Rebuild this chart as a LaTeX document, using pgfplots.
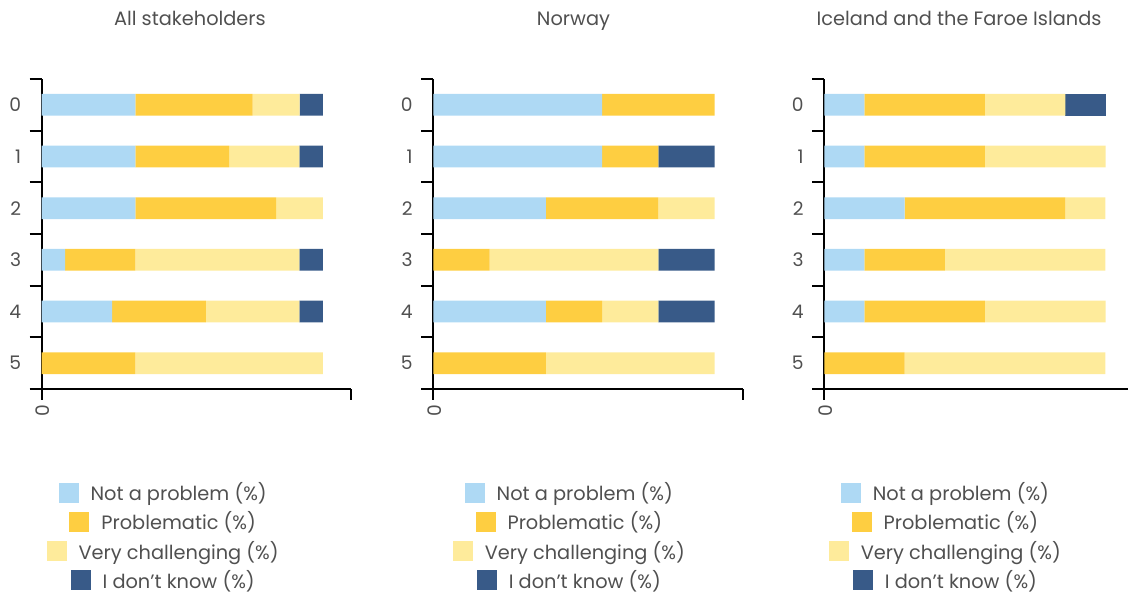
\documentclass[border=0pt]{standalone}
\usepackage{pgfplots}
\pgfplotsset{compat=1.18}
\usepackage{pgfplotstable}
\usepackage{fontspec}
\setmainfont{Poppins}
\definecolor{cnp}{HTML}{AED9F4}
\definecolor{cpr}{HTML}{FECE41}
\definecolor{cvc}{HTML}{FEEB9B}
\definecolor{cdk}{HTML}{385A88}
\definecolor{txt}{HTML}{505050}

% pos: 5 = category "0" (top) ... 0 = category "5" (bottom)
\pgfplotstableread{
pos np    pr    vc    dk
5   33.33 41.67 16.67 8.33
4   33.33 33.33 25.00 8.33
3   33.33 50.00 16.67 0
2   8.33  25.00 58.33 8.33
1   25.00 33.33 33.33 8.33
0   0     33.33 66.67 0
}\tall
\pgfplotstableread{
pos np pr vc dk
5   60 40 0  0
4   60 20 0  20
3   40 40 20 0
2   0  20 60 20
1   40 20 20 20
0   0  40 60 0
}\tnor
\pgfplotstableread{
pos np    pr    vc    dk
5   14.29 42.86 28.57 14.29
4   14.29 42.86 42.86 0
3   28.57 57.14 14.29 0
2   14.29 28.57 57.14 0
1   14.29 42.86 42.86 0
0   0     28.57 71.43 0
}\tice

\newcommand{\sw}[1]{\raisebox{-1.5pt}{\textcolor{#1}{\rule{15pt}{15pt}}}\hspace{9pt}}

\pgfplotsset{
 panel/.style={
  scale only axis, width=232pt, height=232.5pt,
  xbar stacked, bar width=16.3pt,
  xmin=0, xmax=110, ymin=-0.5, ymax=5.5,
  axis x line=bottom, axis y line=left,
  axis line style={-, line width=1.5pt, black},
  xtick={0,110}, xticklabels={0,{}},
  ytick={0,...,5}, yticklabels={5,4,3,2,1,0},
  minor ytick={-0.5,0.5,...,5.5},
  tick align=outside, major tick length=8pt, minor tick length=9pt,
  major y tick style={draw=none},
  minor y tick style={line width=1.5pt, black},
  major x tick style={line width=1.5pt, black},
  /pgf/number format/assume math mode=true,
  tick label style={font=\fontsize{14}{16}\selectfont, text=txt},
  yticklabel style={xshift=-4pt},
  xticklabel style={rotate=90, anchor=east, yshift=-1pt},
  title style={font=\fontsize{14.5}{16}\selectfont, text=txt, anchor=base, yshift=34pt},
  legend image code/.code={},
  legend style={draw=none, fill=none, anchor=north, yshift=-68pt,
    font=\fontsize{14.5}{16}\selectfont, text=txt, row sep=2.9pt,
    legend cell align=center, inner sep=0pt},
  legend cell align=center,
 },
 every axis plot/.append style={draw=none},
}

\begin{document}
\begin{tikzpicture}
\begin{axis}[panel, at={(31.3pt,155.25pt)}, anchor=south west,
  title={All stakeholders}, title style={at={(axis description cs:0.479,1)}},
  legend style={at={(axis description cs:0.391,0)}}]
\addplot[fill=cnp] table[x=np,y=pos]{\tall};
\addplot[fill=cpr] table[x=pr,y=pos]{\tall};
\addplot[fill=cvc] table[x=vc,y=pos]{\tall};
\addplot[fill=cdk] table[x=dk,y=pos]{\tall};
\legend{\sw{cnp}Not a problem (\%),\sw{cpr}Problematic (\%),\sw{cvc}Very challenging (\%),\sw{cdk}I don't know (\%)}
\end{axis}
\begin{axis}[panel, at={(325pt,155.25pt)}, anchor=south west,
  title={Norway}, title style={at={(axis description cs:0.453,1)}},
  legend style={at={(axis description cs:0.438,0)}}]
\addplot[fill=cnp] table[x=np,y=pos]{\tnor};
\addplot[fill=cpr] table[x=pr,y=pos]{\tnor};
\addplot[fill=cvc] table[x=vc,y=pos]{\tnor};
\addplot[fill=cdk] table[x=dk,y=pos]{\tnor};
\legend{\sw{cnp}Not a problem (\%),\sw{cpr}Problematic (\%),\sw{cvc}Very challenging (\%),\sw{cdk}I don't know (\%)}
\end{axis}
\begin{axis}[panel, at={(618.2pt,155.25pt)}, anchor=south west,
  title={Iceland and the Faroe Islands}, title style={at={(axis description cs:0.4355,1)}},
  legend style={at={(axis description cs:0.39,0)}}]
\addplot[fill=cnp] table[x=np,y=pos]{\tice};
\addplot[fill=cpr] table[x=pr,y=pos]{\tice};
\addplot[fill=cvc] table[x=vc,y=pos]{\tice};
\addplot[fill=cdk] table[x=dk,y=pos]{\tice};
\legend{\sw{cnp}Not a problem (\%),\sw{cpr}Problematic (\%),\sw{cvc}Very challenging (\%),\sw{cdk}I don't know (\%)}
\end{axis}
\pgfresetboundingbox
\useasboundingbox (0,0) rectangle (846pt,447pt);
\end{tikzpicture}
\end{document}
